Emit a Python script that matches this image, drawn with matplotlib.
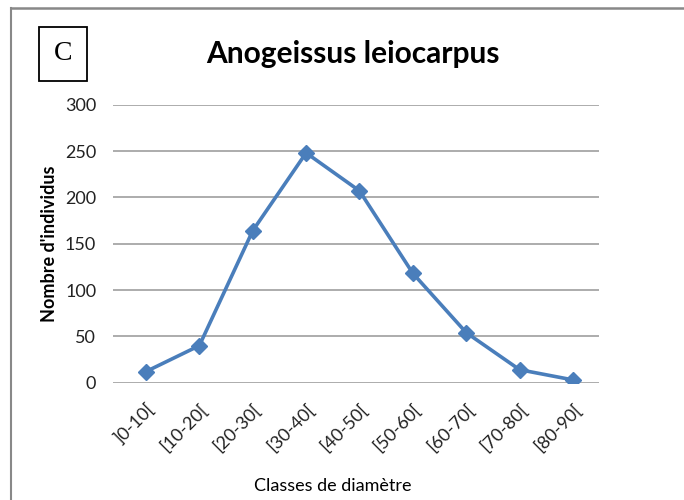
import matplotlib

matplotlib.use("Agg")

import matplotlib.pyplot as plt
from matplotlib.patches import Rectangle
from matplotlib.lines import Line2D

classes = ["]0-10[", "[10-20[", "[20-30[", "[30-40[", "[40-50[",
           "[50-60[", "[60-70[", "[70-80[", "[80-90["]
individus = [12, 40, 164, 248, 207, 118, 54, 14, 3]
y_ticks = [0, 50, 100, 150, 200, 250, 300]

plt.rcParams["font.family"] = ["Lato", "DejaVu Sans"]

fig = plt.figure(figsize=(6.84, 5.00), dpi=100)
ax = fig.add_axes([0.165, 0.2346, 0.711, 0.556])

x = list(range(len(classes)))
ax.plot(x, individus, color="#4a7ebb", linewidth=2.6, marker="D",
        markersize=8, zorder=3)

ax.set_xlim(-0.62, 8.49)
ax.set_ylim(0, 300)
ax.set_yticks(y_ticks)
ax.set_xticks(x)
ax.set_xticklabels(classes, rotation=45, ha="right", va="top",
                   rotation_mode="anchor", fontsize=13, color="#222222")
ax.tick_params(axis="y", labelsize=13, labelcolor="#222222", length=0, pad=12)
ax.tick_params(axis="x", length=0, pad=13)
ax.grid(axis="y", color="#a6a6a6", linewidth=1.3)
ax.set_axisbelow(True)
for spine in ax.spines.values():
    spine.set_visible(False)

ax.set_ylabel("Nombre d'individus", fontsize=13, fontweight="bold", labelpad=5)
fig.text(0.487, 0.012, "Classes de diamètre", fontsize=13, ha="center", va="bottom")

# title and panel letter
fig.text(0.516, 0.893, "Anogeissus leiocarpus", fontsize=21.5, fontweight="bold",
         ha="center", va="center")
fig.patches.append(Rectangle((39 / 684, 1 - 81 / 500), 48 / 684, 54 / 500,
                             transform=fig.transFigure, fill=False,
                             edgecolor="black", linewidth=1.3))
fig.text(63 / 684, 1 - 54 / 500, "C", fontsize=20, family="Liberation Serif",
         ha="center", va="center")

# outer frame on top and left
fig.lines.append(Line2D([11 / 684, 1], [1 - 8 / 500, 1 - 8 / 500],
                        transform=fig.transFigure, color="#888888", linewidth=1.8))
fig.lines.append(Line2D([11 / 684, 11 / 684], [0, 1 - 8 / 500],
                        transform=fig.transFigure, color="#888888", linewidth=1.5))

fig.savefig("out.png", dpi=100)
plt.close(fig)
